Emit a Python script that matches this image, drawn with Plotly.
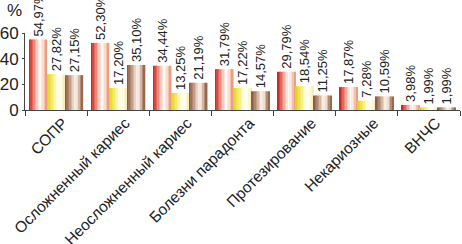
import plotly.graph_objects as go

categories = ["СОПР", "Осложненный кариес", "Неосложненный кариес", "Болезни парадонта",
              "Протезирование", "Некариозные", "ВНЧС"]
series_a = [54.97, 52.30, 34.44, 31.79, 29.79, 17.87, 3.98]
series_b = [27.82, 17.20, 13.25, 17.22, 18.54, 7.28, 1.99]
series_c = [27.15, 35.10, 21.19, 14.57, 11.25, 10.59, 1.99]
y_ticks = [0, 20, 40, 60]

FONT = "Liberation Sans Narrow, Arial Narrow, Liberation Sans, Arial, sans-serif"

# gradient stops (position, rgb) per series, emulating the cylindrical shading
grad_a = [(0.0, (190, 30, 30)), (0.15, (220, 80, 70)), (0.45, (250, 200, 185)),
          (0.62, (255, 250, 248)), (0.82, (250, 215, 195)), (1.0, (232, 140, 110))]
grad_b = [(0.0, (225, 205, 20)), (0.25, (240, 230, 90)), (0.55, (255, 252, 215)),
          (0.75, (255, 255, 250)), (1.0, (245, 235, 170))]
grad_c = [(0.0, (130, 85, 60)), (0.25, (185, 145, 120)), (0.55, (250, 240, 232)),
          (0.72, (240, 220, 205)), (0.9, (170, 125, 100)), (1.0, (135, 90, 65))]


def interp(stops, t):
    for (p0, c0), (p1, c1) in zip(stops, stops[1:]):
        if p0 <= t <= p1:
            f = (t - p0) / (p1 - p0) if p1 > p0 else 0
            c = [round(a + (b - a) * f) for a, b in zip(c0, c1)]
            return "rgb(%d,%d,%d)" % tuple(c)
    return "rgb(%d,%d,%d)" % stops[-1][1]


W = 0.29
offsets = [-0.435, -0.145, 0.145]
N = 12

fig = go.Figure()
for vals, grad, off in zip([series_a, series_b, series_c], [grad_a, grad_b, grad_c], offsets):
    sw = W / N
    for k in range(N):
        t = (k + 0.5) / N
        fig.add_trace(go.Bar(
            x=categories, y=vals, width=[sw * 1.05] * len(vals), offset=off + k * sw,
            marker=dict(color=interp(grad, t), line=dict(width=0)),
            showlegend=False, hoverinfo="skip"))
    labels = [f"{v:.2f}".replace(".", ",") + "%" for v in vals]
    fig.add_trace(go.Bar(
        x=categories, y=vals, width=[W] * len(vals), offset=off,
        marker=dict(color="rgba(0,0,0,0)", line=dict(width=0)),
        text=labels, textposition="outside", textangle=-90, constraintext="none",
        cliponaxis=False, textfont=dict(family=FONT, size=13, color="#222"),
        showlegend=False, hoverinfo="skip"))

fig.update_layout(
    width=462, height=244, barmode="overlay",
    margin=dict(l=25, r=2, t=33, b=134, autoexpand=False),
    paper_bgcolor="white", plot_bgcolor="white",
    font=dict(family=FONT, color="#222"),
    xaxis=dict(showline=True, linecolor="#444", linewidth=1, ticks="outside",
               tickson="boundaries", ticklen=5, tickcolor="#444", tickangle=-45,
               ticklabelshift=7, ticklabelstandoff=-3,
               tickfont=dict(family=FONT, size=15.5, color="#222"), showgrid=False,
               automargin=False),
    yaxis=dict(range=[0, 60], tickvals=y_ticks, showline=True, linecolor="#444",
               linewidth=1, ticks="outside", ticklen=2, tickcolor="#444",
               tickfont=dict(family=FONT, size=17, color="#222"), showgrid=False,
               zeroline=False, automargin=False),
    annotations=[dict(text="%", xref="paper", yref="paper", x=-0.025, y=1.29,
                      xanchor="center", yanchor="middle", showarrow=False,
                      font=dict(family=FONT, size=17, color="#222"))],
)

fig.write_html("out.html", config={"displayModeBar": False},
               post_script="document.body.style.margin='0';")
